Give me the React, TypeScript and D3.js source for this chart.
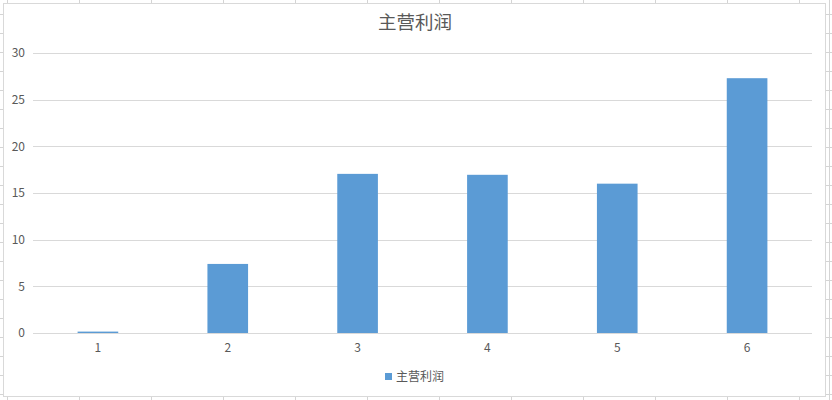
import React, { useEffect, useRef } from "react";
import * as d3 from "d3";

const title = "主营利润";
const seriesName = "主营利润";
const categories = ["1", "2", "3", "4", "5", "6"];
const values = [0.15, 7.4, 17.05, 16.95, 16.0, 27.3];
const yTicks = [0, 5, 10, 15, 20, 25, 30];

const W = 832;
const H = 400;

export default function App() {
  const ref = useRef<SVGSVGElement | null>(null);

  useEffect(() => {
    document.body.style.margin = "0";
    const svg = d3.select(ref.current);
    svg.selectAll("*").remove();

    const font = "'Noto Sans CJK SC', 'Noto Sans', sans-serif";

    // spreadsheet background
    svg.append("rect").attr("x", 0).attr("y", 0).attr("width", W).attr("height", H).attr("fill", "#ffffff");
    const bg = svg.append("g").attr("stroke", "#d4d4d4").attr("stroke-width", 1);
    d3.range(7, W, 72).forEach((x) => {
      bg.append("line").attr("x1", x + 0.5).attr("x2", x + 0.5).attr("y1", 0).attr("y2", H);
    });
    d3.range(14, H, 19).forEach((y) => {
      bg.append("line").attr("x1", 0).attr("x2", W).attr("y1", y + 0.5).attr("y2", y + 0.5);
    });
    bg.append("line").attr("x1", 829.5).attr("x2", 829.5).attr("y1", 0).attr("y2", H);

    // chart area
    svg
      .append("rect")
      .attr("x", 3.5)
      .attr("y", 3.5)
      .attr("width", 822)
      .attr("height", 393)
      .attr("fill", "#ffffff")
      .attr("stroke", "#d9d9d9");

    const left = 33;
    const right = 812;
    const top = 53;
    const bottom = 333;

    const x = d3.scaleBand().domain(categories).range([left, right]).paddingInner(0.687).paddingOuter(0.3435);
    const y = d3.scaleLinear().domain([0, 30]).range([bottom, top]);

    const grid = svg.append("g");
    yTicks.forEach((t) => {
      grid
        .append("line")
        .attr("x1", left)
        .attr("x2", right)
        .attr("y1", Math.round(y(t)) + 0.5)
        .attr("y2", Math.round(y(t)) + 0.5)
        .attr("stroke", "#d9d9d9")
        .attr("stroke-width", 1);
      grid
        .append("text")
        .attr("x", 25)
        .attr("y", y(t))
        .attr("dy", "0.35em")
        .attr("text-anchor", "end")
        .attr("font-family", font)
        .attr("font-size", 12)
        .attr("fill", "#595959")
        .text(String(t));
    });

    svg
      .append("g")
      .selectAll("rect")
      .data(values)
      .join("rect")
      .attr("x", (_d, i) => x(categories[i]) as number)
      .attr("width", x.bandwidth())
      .attr("y", (d) => y(d))
      .attr("height", (d) => bottom - y(d))
      .attr("fill", "#5b9bd5");

    svg
      .append("g")
      .selectAll("text")
      .data(categories)
      .join("text")
      .attr("x", (d) => (x(d) as number) + x.bandwidth() / 2)
      .attr("y", 348)
      .attr("dy", "0.35em")
      .attr("text-anchor", "middle")
      .attr("font-family", font)
      .attr("font-size", 12)
      .attr("fill", "#595959")
      .text((d) => d);

    svg
      .append("text")
      .attr("x", 415)
      .attr("y", 23)
      .attr("dy", "0.35em")
      .attr("text-anchor", "middle")
      .attr("font-family", font)
      .attr("font-size", 18.5)
      .attr("fill", "#595959")
      .text(title);

    svg
      .append("rect")
      .attr("x", 385)
      .attr("y", 373)
      .attr("width", 7)
      .attr("height", 7)
      .attr("fill", "#5b9bd5");
    svg
      .append("text")
      .attr("x", 396)
      .attr("y", 377)
      .attr("dy", "0.35em")
      .attr("font-family", font)
      .attr("font-size", 12)
      .attr("fill", "#595959")
      .text(seriesName);
  }, []);

  return (
    <svg
      ref={ref}
      width={W}
      height={H}
      style={{ position: "fixed", left: 0, top: 0, display: "block" }}
    />
  );
}
